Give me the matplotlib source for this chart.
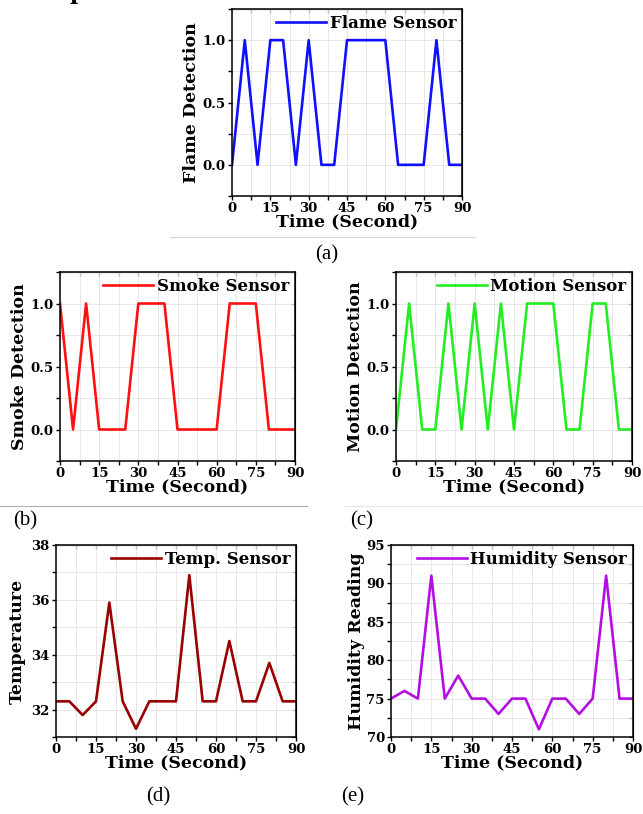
import matplotlib.pyplot as plt
from matplotlib.ticker import MultipleLocator

# Lecturas de los sensores cada 5 segundos
time_s = [0, 5, 10, 15, 20, 25, 30, 35, 40, 45, 50, 55, 60, 65, 70, 75, 80, 85, 90]
flame = [0, 1, 0, 1, 1, 0, 1, 0, 0, 1, 1, 1, 1, 0, 0, 0, 1, 0, 0]
smoke = [1, 0, 1, 0, 0, 0, 1, 1, 1, 0, 0, 0, 0, 1, 1, 1, 0, 0, 0]
motion = [0, 1, 0, 0, 1, 0, 1, 0, 1, 0, 1, 1, 1, 0, 0, 1, 1, 0, 0]
temperature = [32.3, 32.3, 31.8, 32.3, 35.9, 32.3, 31.3, 32.3, 32.3, 32.3,
               36.9, 32.3, 32.3, 34.5, 32.3, 32.3, 33.7, 32.3, 32.3]
humidity = [75, 76, 75, 91, 75, 78, 75, 75, 73, 75, 75, 71, 75, 75, 73, 75, 91, 75, 75]

x_ticks = [0, 15, 30, 45, 60, 75, 90]

W, H = 643, 814
SERIF = ['DejaVu Serif']
CAPTION = ['Liberation Serif']

fig = plt.figure(figsize=(W / 100, H / 100), dpi=100)


def box(x0, y0, x1, y1):
    # caja en pixeles (origen arriba a la izquierda) -> fraccion de figura
    return [x0 / W, 1 - y1 / H, (x1 - x0) / W, (y1 - y0) / H]


def sensor_panel(rect, y, color, label, ylabel, ylim, yticks, yminor, ylabelpad):
    ax = fig.add_axes(box(*rect))
    ax.plot(time_s, y, color=color, linewidth=1.9, label=label)
    ax.set_xlim(0, 90)
    ax.set_ylim(*ylim)
    ax.set_xticks(x_ticks)
    ax.set_yticks(yticks)
    ax.xaxis.set_minor_locator(MultipleLocator(7.5))
    ax.yaxis.set_minor_locator(MultipleLocator(yminor))
    ax.grid(which='both', color='#e4e4e4', linewidth=0.6)
    ax.set_axisbelow(True)
    ax.tick_params(which='both', direction='out', length=3, width=1, pad=1.5)
    for t in ax.get_xticklabels() + ax.get_yticklabels():
        t.set_family(SERIF)
        t.set_fontweight('bold')
        t.set_fontsize(9.5)
    for s in ax.spines.values():
        s.set_linewidth(1.1)

    # marcas interiores en los bordes superior y derecho
    top = ax.secondary_xaxis('top')
    top.set_xticks([t * 7.5 for t in range(13)])
    top.tick_params(direction='in', length=3, labeltop=False)
    right = ax.secondary_yaxis('right')
    right.set_yticks([ylim[0] + k * yminor for k in range(int(round((ylim[1] - ylim[0]) / yminor)) + 1)])
    right.tick_params(direction='in', length=3, labelright=False)

    ax.set_xlabel('Time (Second)', family=SERIF, fontweight='bold', fontsize=12.5, labelpad=-1)
    ax.set_ylabel(ylabel, family=SERIF, fontweight='bold', fontsize=12.5, labelpad=ylabelpad)
    ax.legend(loc='upper right', frameon=False, handlelength=3.0, handletextpad=0.2,
              borderaxespad=0.1, borderpad=0.25,
              prop={'family': SERIF, 'weight': 'bold', 'size': 12})
    return ax


sensor_panel((232, 9, 462, 196), flame, '#1010ff', 'Flame Sensor', 'Flame Detection',
             (-0.25, 1.25), [0.0, 0.5, 1.0], 0.25, 2)
sensor_panel((60, 272, 295, 461), smoke, '#ff1010', 'Smoke Sensor', 'Smoke Detection',
             (-0.25, 1.25), [0.0, 0.5, 1.0], 0.25, 2)
sensor_panel((396, 272, 632, 461), motion, '#22ee22', 'Motion Sensor', 'Motion Detection',
             (-0.25, 1.25), [0.0, 0.5, 1.0], 0.25, 2)
sensor_panel((56, 545, 296, 737), temperature, '#990000', 'Temp. Sensor', 'Temperature',
             (31, 38), [32, 34, 36, 38], 1, 4)
sensor_panel((391, 545, 633, 737), humidity, '#b30fe3', 'Humidity Sensor', 'Humidity Reading',
             (70, 95), [70, 75, 80, 85, 90, 95], 2.5, 1)

# lineas separadoras bajo los paneles
fig.add_artist(plt.Line2D([170 / W, 475 / W], [1 - 237 / H] * 2, color='#d8d8d8', linewidth=0.8))
fig.add_artist(plt.Line2D([0 / W, 307 / W], [1 - 506 / H] * 2, color='#b0b0b0', linewidth=0.8))
fig.add_artist(plt.Line2D([345 / W, 643 / W], [1 - 506 / H] * 2, color='#e6e6e6', linewidth=0.8))

# rotulos de los paneles
captions = ['(a)', '(b)', '(c)', '(d)', '(e)']
cap_pos = [(327, 255), (25, 521), (362, 521), (158, 797), (353, 797)]
for txt, (cx, cy) in zip(captions, cap_pos):
    fig.text(cx / W, 1 - cy / H, txt, ha='center', va='center', family=CAPTION, fontsize=15)

# resto del titulo cortado en el borde superior
fig.text(70 / W, 1 + 1.5 / H, 'p', va='baseline', family=SERIF, fontweight='bold', fontsize=16)

fig.savefig('out.png', dpi=100)
